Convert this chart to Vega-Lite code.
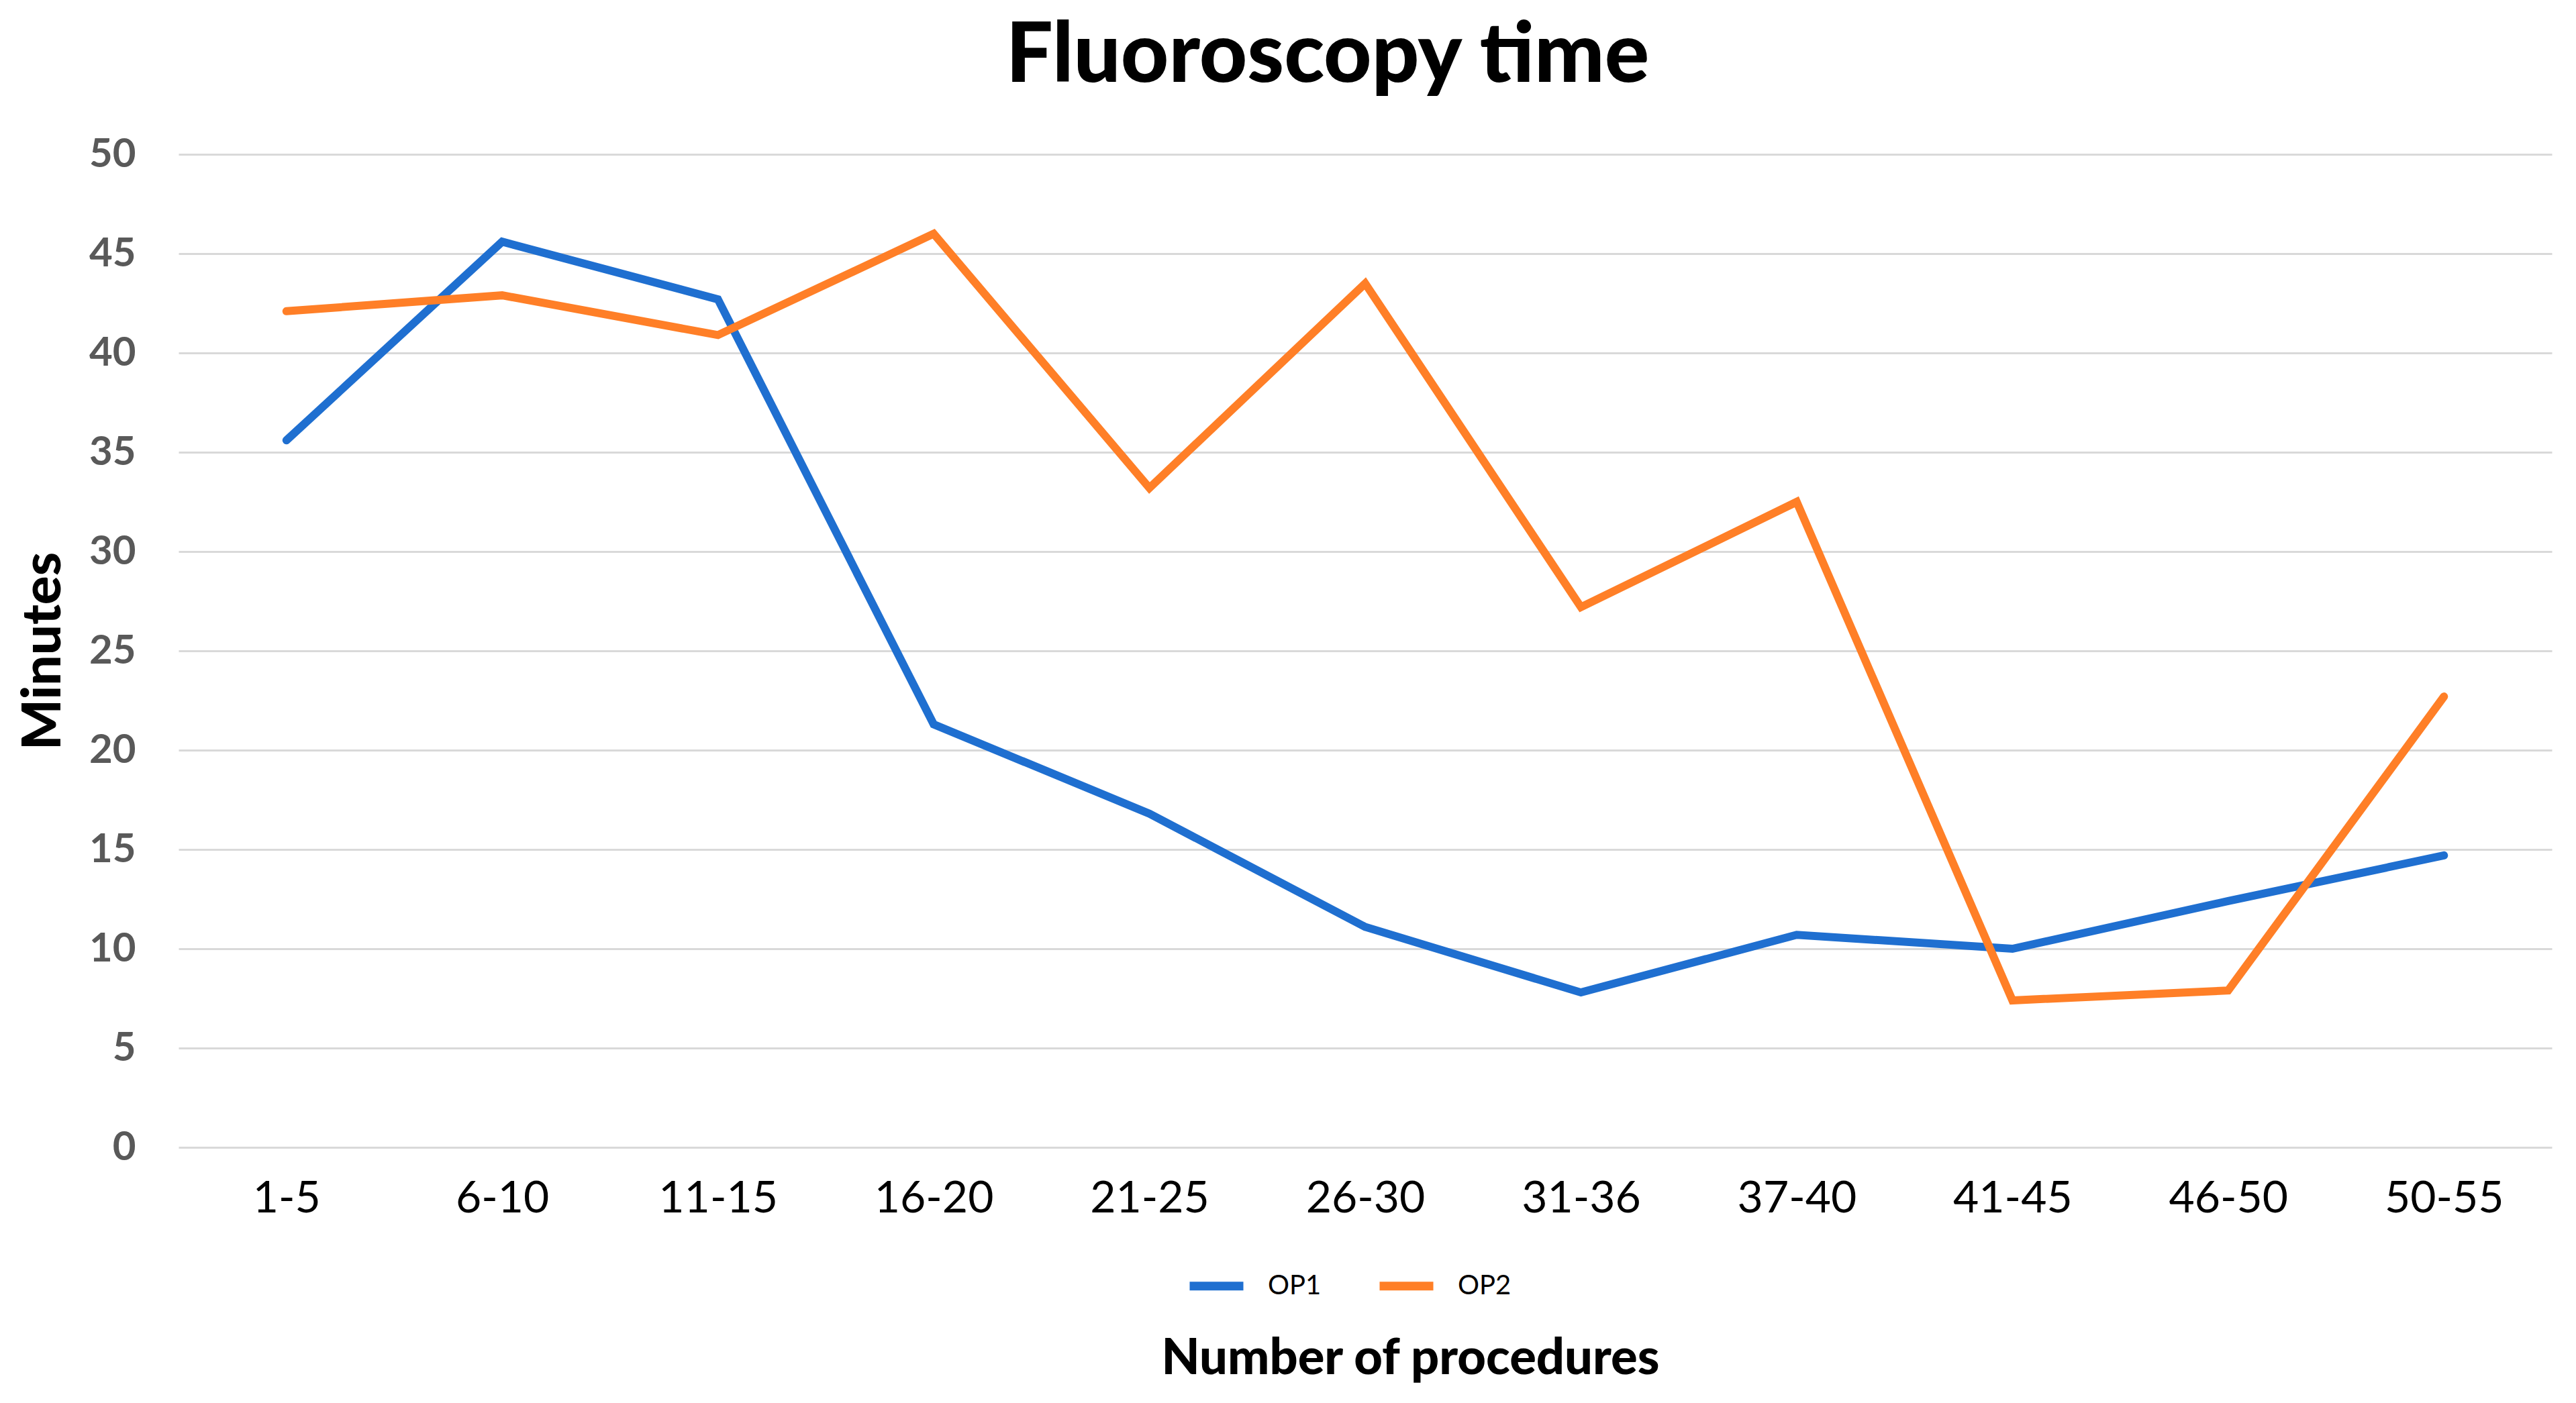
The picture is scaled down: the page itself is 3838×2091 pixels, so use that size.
{
  "$schema": "https://vega.github.io/schema/vega-lite/v6.json",
  "autosize": {"type": "none"},
  "padding": {"left": 266, "top": 230, "right": 36, "bottom": 381},
  "width": 3536,
  "height": 1480,
  "background": "white",
  "title": {
    "text": "Fluoroscopy time",
    "font": "Lato",
    "fontSize": 124,
    "fontWeight": 900,
    "color": "#000000",
    "anchor": "middle",
    "dx": -56,
    "offset": 52
  },
  "data": {
    "values": [
      {"group": "1-5", "series": "OP1", "minutes": 35.6},
      {"group": "6-10", "series": "OP1", "minutes": 45.6},
      {"group": "11-15", "series": "OP1", "minutes": 42.7},
      {"group": "16-20", "series": "OP1", "minutes": 21.3},
      {"group": "21-25", "series": "OP1", "minutes": 16.8},
      {"group": "26-30", "series": "OP1", "minutes": 11.1},
      {"group": "31-36", "series": "OP1", "minutes": 7.8},
      {"group": "37-40", "series": "OP1", "minutes": 10.7},
      {"group": "41-45", "series": "OP1", "minutes": 10.0},
      {"group": "46-50", "series": "OP1", "minutes": 12.4},
      {"group": "50-55", "series": "OP1", "minutes": 14.7},
      {"group": "1-5", "series": "OP2", "minutes": 42.1},
      {"group": "6-10", "series": "OP2", "minutes": 42.9},
      {"group": "11-15", "series": "OP2", "minutes": 40.9},
      {"group": "16-20", "series": "OP2", "minutes": 46.0},
      {"group": "21-25", "series": "OP2", "minutes": 33.2},
      {"group": "26-30", "series": "OP2", "minutes": 43.5},
      {"group": "31-36", "series": "OP2", "minutes": 27.2},
      {"group": "37-40", "series": "OP2", "minutes": 32.5},
      {"group": "41-45", "series": "OP2", "minutes": 7.4},
      {"group": "46-50", "series": "OP2", "minutes": 7.9},
      {"group": "50-55", "series": "OP2", "minutes": 22.7}
    ]
  },
  "mark": {"type": "line", "strokeWidth": 12, "strokeJoin": "miter", "strokeCap": "round"},
  "encoding": {
    "x": {
      "field": "group",
      "type": "ordinal",
      "sort": null,
      "scale": {"type": "point", "padding": 0.5},
      "axis": {
        "title": "Number of procedures",
        "titleFont": "Lato",
        "titleFontSize": 74,
        "titleFontWeight": 900,
        "titleColor": "#000000",
        "titleX": 1835,
        "titleY": 337,
        "titleBaseline": "alphabetic",
        "labelFont": "Lato",
        "labelFontSize": 66,
        "labelColor": "#000000",
        "labelPadding": 44,
        "labelAngle": 0,
        "domain": false,
        "ticks": false,
        "grid": false
      }
    },
    "y": {
      "field": "minutes",
      "type": "quantitative",
      "scale": {"domain": [0, 50], "nice": false},
      "axis": {
        "title": "Minutes",
        "titleFont": "Lato",
        "titleFontSize": 80,
        "titleFontWeight": 900,
        "titleColor": "#000000",
        "titlePadding": 26,
        "values": [0, 5, 10, 15, 20, 25, 30, 35, 40, 45, 50],
        "labelFont": "Lato",
        "labelFontSize": 60,
        "labelFontWeight": "bold",
        "labelColor": "#595959",
        "labelPadding": 64,
        "domain": false,
        "ticks": false,
        "grid": true,
        "gridColor": "#d9d9d9",
        "gridWidth": 3
      }
    },
    "color": {
      "field": "series",
      "type": "nominal",
      "scale": {"domain": ["OP1", "OP2"], "range": ["#1F6FD0", "#FF7F27"]},
      "legend": {
        "title": null,
        "orient": "none",
        "direction": "horizontal",
        "legendX": 1500,
        "legendY": 1640,
        "symbolType": "stroke",
        "symbolStrokeWidth": 13,
        "symbolSize": 6400,
        "labelFont": "Lato",
        "labelFontSize": 40,
        "labelColor": "#000000",
        "labelOffset": 30,
        "columnPadding": 60
      }
    }
  },
  "config": {"view": {"stroke": null}}
}
